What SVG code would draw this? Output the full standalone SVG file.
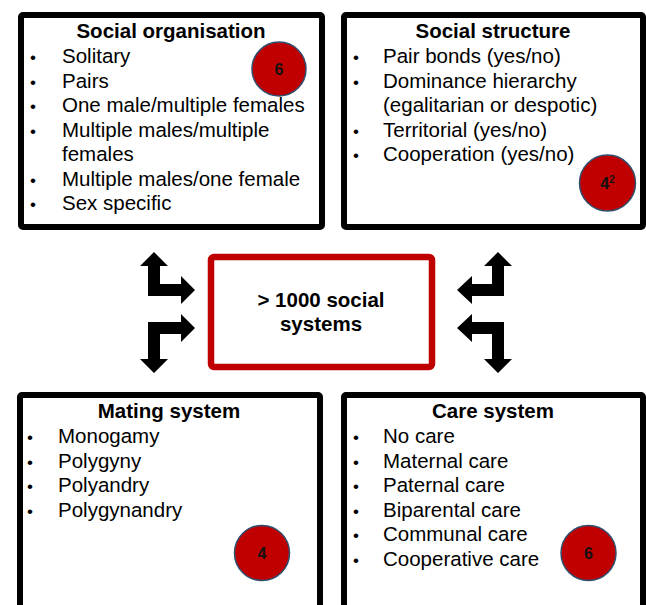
<svg xmlns="http://www.w3.org/2000/svg" width="646" height="605" viewBox="0 0 646 605">
<style>
.box{fill:#fff;stroke:#000;stroke-width:6}
.hub{fill:#fff;stroke:#C00000;stroke-width:6.5}
.t{font-family:"Liberation Sans",Arial,sans-serif;font-size:20.5px;fill:#000}
.b{font-weight:bold;text-anchor:middle}
.dot{font-family:"Liberation Sans",Arial,sans-serif;font-size:17px;fill:#000}
.badge{fill:#C00000;stroke:#2F4F6F;stroke-width:1.5}
.n{font-family:"Liberation Sans",Arial,sans-serif;font-size:16px;font-weight:bold;fill:#111;text-anchor:middle}
.arr{fill:#000}
</style>
<rect width="646" height="605" fill="#fff"/>

<g id="social-organisation">
<rect class="box" x="21" y="15" width="301" height="212" rx="2"/>
<text class="t b" x="171" y="38">Social organisation</text>
<g class="dot">
<text x="30" y="63">•</text><text x="30" y="87.5">•</text><text x="30" y="112">•</text><text x="30" y="136.5">•</text><text x="30" y="185.5">•</text><text x="30" y="210">•</text>
</g>
<g class="t">
<text x="62" y="63">Solitary</text>
<text x="62" y="87.5">Pairs</text>
<text x="62" y="112">One male/multiple females</text>
<text x="62" y="136.5">Multiple males/multiple</text>
<text x="62" y="161">females</text>
<text x="62" y="185.5">Multiple males/one female</text>
<text x="62" y="210">Sex specific</text>
</g>
<circle class="badge" cx="279" cy="69" r="27"/>
<text class="n" x="279" y="75">6</text>
</g>

<g id="social-structure">
<rect class="box" x="344" y="15" width="299" height="212" rx="2"/>
<text class="t b" x="493" y="38">Social structure</text>
<g class="dot">
<text x="353" y="63">•</text><text x="353" y="87.5">•</text><text x="353" y="136.5">•</text><text x="353" y="161">•</text>
</g>
<g class="t">
<text x="383" y="63">Pair bonds (yes/no)</text>
<text x="383" y="87.5">Dominance hierarchy</text>
<text x="383" y="112">(egalitarian or despotic)</text>
<text x="383" y="136.5">Territorial (yes/no)</text>
<text x="383" y="161">Cooperation (yes/no)</text>
</g>
<circle class="badge" cx="607.5" cy="183" r="28"/>
<text class="n" x="607.5" y="189">4<tspan font-size="10" dy="-6">2</tspan></text>
</g>

<g id="social-systems">
<rect class="hub" x="211" y="257" width="221" height="110" rx="3"/>
<text class="t b" x="321" y="307">&gt; 1000 social</text>
<text class="t b" x="321" y="331">systems</text>
</g>

<g id="mating-system">
<rect class="box" x="20" y="395" width="300" height="240" rx="2"/>
<text class="t b" x="169" y="418">Mating system</text>
<g class="dot">
<text x="27" y="443">•</text><text x="27" y="467.5">•</text><text x="27" y="492">•</text><text x="27" y="516.5">•</text>
</g>
<g class="t">
<text x="58" y="443">Monogamy</text>
<text x="58" y="467.5">Polygyny</text>
<text x="58" y="492">Polyandry</text>
<text x="58" y="516.5">Polygynandry</text>
</g>
<circle class="badge" cx="262" cy="553" r="27.5"/>
<text class="n" x="262" y="559" font-weight="normal">4</text>
</g>

<g id="care-system">
<rect class="box" x="344" y="395" width="299" height="240" rx="2"/>
<text class="t b" x="493" y="418">Care system</text>
<g class="dot">
<text x="353" y="443">•</text><text x="353" y="467.5">•</text><text x="353" y="492">•</text><text x="353" y="516.5">•</text><text x="353" y="541">•</text><text x="353" y="565.5">•</text>
</g>
<g class="t">
<text x="383" y="443">No care</text>
<text x="383" y="467.5">Maternal care</text>
<text x="383" y="492">Paternal care</text>
<text x="383" y="516.5">Biparental care</text>
<text x="383" y="541">Communal care</text>
<text x="383" y="565.5">Cooperative care</text>
</g>
<circle class="badge" cx="588.5" cy="553" r="27.5"/>
<text class="n" x="588.5" y="559">6</text>
</g>

<g id="connectors">
<polygon class="arr" points="154,252 168,266 160,266 160,284 181,284 181,276 195,290 181,304 181,296 148,296 148,266 140,266"/>
<polygon class="arr" points="148,322 181,322 181,314 195,328 181,342 181,334 160,334 160,359 168,359 154,373 140,359 148,359"/>
<polygon class="arr" points="498,252 512,266 504,266 504,296 472,296 472,304 457,290 472,276 472,284 492,284 492,266 484,266"/>
<polygon class="arr" points="504,322 472,322 472,314 457,328 472,342 472,334 492,334 492,359 484,359 498,373 512,359 504,359"/>
</g>
</svg>
